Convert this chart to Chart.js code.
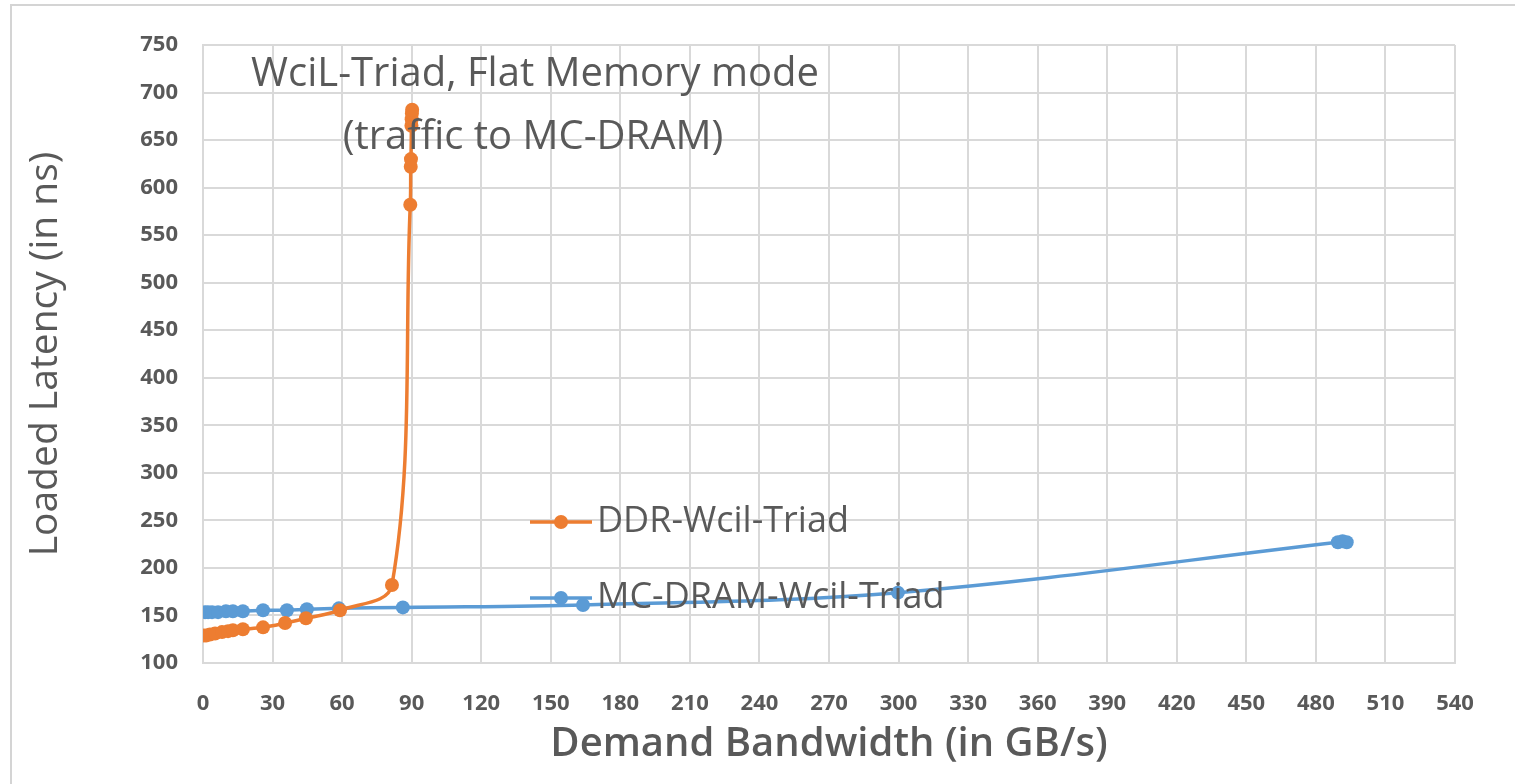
<!DOCTYPE html>
<html>
<head>
<meta charset="utf-8">
<script src="https://cdn.jsdelivr.net/npm/chart.js@4.4.1/dist/chart.umd.min.js"></script>
<style>
  body { margin: 0; background: #fff; overflow: hidden; }
  .frame { position: absolute; left: 10px; top: 4px; width: 1600px; height: 900px;
           border-left: 2px solid #d4d4d4; border-top: 2px solid #d4d4d4; }
  .wrap { position: absolute; left: 0; top: 0; width: 1515px; height: 784px; }
</style>
</head>
<body>
<div class="frame"></div>
<div class="wrap"><canvas id="myChart" width="1515" height="784"></canvas></div>
<script>
const ddrBandwidth = [0, 1.3, 3, 5.2, 8.2, 10.8, 12.9, 17.2, 25.9, 35.4, 44.4, 59.1, 81.5, 89.4, 89.6, 89.7, 89.9, 90.0, 90.1, 90.2];
const ddrLatency   = [129, 129, 130, 131, 132.5, 133.5, 134.5, 135.5, 137.5, 142, 147, 155.5, 182, 582, 622, 630, 665, 672, 678, 682];

const mcBandwidth = [0.9, 2.2, 3.9, 6.5, 9.9, 12.9, 17.2, 25.9, 36.2, 44.8, 58.6, 86.2, 163.9, 299.7, 489.5, 491.5, 493.3];
const mcLatency   = [153.5, 153.5, 153.5, 153.5, 154.5, 154.5, 154.5, 155.5, 155.5, 156.5, 157.5, 158.5, 161, 174, 227, 228, 227];

const seriesNames = ['DDR-Wcil-Triad', 'MC-DRAM-Wcil-Triad'];
const noteLines = ['WciL-Triad, Flat Memory mode', '(traffic to MC-DRAM)'];
const xTitle = 'Demand Bandwidth (in GB/s)';
const yTitle = 'Loaded Latency (in ns)';

const ORANGE = '#ED7D31';
const BLUE = '#5B9BD5';
const GREY = '#595959';
const FONT = "'Open Sans', sans-serif";

const toPoints = (xs, ys) => xs.map((x, i) => ({ x: x, y: ys[i] }));

// legend + the two line note, drawn inside the plot like the excel one
const overlay = {
  id: 'overlay',
  afterDatasetsDraw(chart) {
    const ctx = chart.ctx;
    const area = chart.chartArea;
    ctx.save();
    ctx.fillStyle = GREY;
    ctx.font = '40px ' + FONT;
    ctx.textAlign = 'center';
    ctx.textBaseline = 'middle';
    ctx.fillText(noteLines[0], area.left + 332, area.top + 30);
    ctx.fillText(noteLines[1], area.left + 330, area.top + 93);

    ctx.font = '36px ' + FONT;
    const rows = [area.top + 477, area.top + 553];
    chart.data.datasets.forEach((ds, i) => {
      const y = rows[i];
      const x0 = area.left + 327;
      ctx.strokeStyle = ds.borderColor;
      ctx.lineWidth = 3.5;
      ctx.beginPath();
      ctx.moveTo(x0, y);
      ctx.lineTo(x0 + 62, y);
      ctx.stroke();
      ctx.fillStyle = ds.borderColor;
      ctx.beginPath();
      ctx.arc(x0 + 31, y, 7, 0, Math.PI * 2);
      ctx.fill();
      ctx.fillStyle = GREY;
      ctx.textAlign = 'left';
      ctx.fillText(ds.label, x0 + 67, y);
    });
    ctx.restore();
  }
};

const ctx = document.getElementById('myChart').getContext('2d');
const myChart = new Chart(ctx, {
  type: 'line',
  data: {
    datasets: [{
      label: seriesNames[0],
      data: toPoints(ddrBandwidth, ddrLatency),
      borderColor: ORANGE,
      backgroundColor: ORANGE,
      borderWidth: 3.5,
      pointRadius: 7,
      pointBorderWidth: 0,
      tension: 0.35,
    }, {
      label: seriesNames[1],
      data: toPoints(mcBandwidth, mcLatency),
      borderColor: BLUE,
      backgroundColor: BLUE,
      borderWidth: 3.5,
      pointRadius: 7,
      pointBorderWidth: 0,
      tension: 0.35,
    }],
  },
  options: {
    responsive: false,
    animation: false,
    layout: { padding: { left: 0, right: 60, top: 45, bottom: 0 } },
    plugins: { legend: { display: false }, tooltip: { enabled: false } },
    scales: {
      x: {
        type: 'linear',
        min: 0, max: 540,
        afterFit: (scale) => { scale.height = 121; },
        ticks: { stepSize: 30, color: GREY, padding: 28, font: { family: FONT, size: 22, weight: 'bold' } },
        grid: { color: '#d9d9d9', lineWidth: 2, drawTicks: false },
        border: { color: '#d9d9d9', width: 2 },
        title: { display: true, text: xTitle, color: GREY, padding: { top: 0, bottom: 15 },
                 font: { family: FONT, size: 40, weight: '600' } },
      },
      y: {
        min: 100, max: 750,
        afterFit: (scale) => { scale.width = 203; },
        ticks: { stepSize: 50, color: GREY, padding: 25, font: { family: FONT, size: 22, weight: 'bold' } },
        grid: { color: '#d9d9d9', lineWidth: 2, drawTicks: false },
        border: { color: '#d9d9d9', width: 2 },
        title: { display: true, text: yTitle, color: GREY, padding: { top: 22, bottom: 0 },
                 font: { family: FONT, size: 39 } },
      },
    },
  },
  plugins: [overlay],
});
</script>
</body>
</html>
